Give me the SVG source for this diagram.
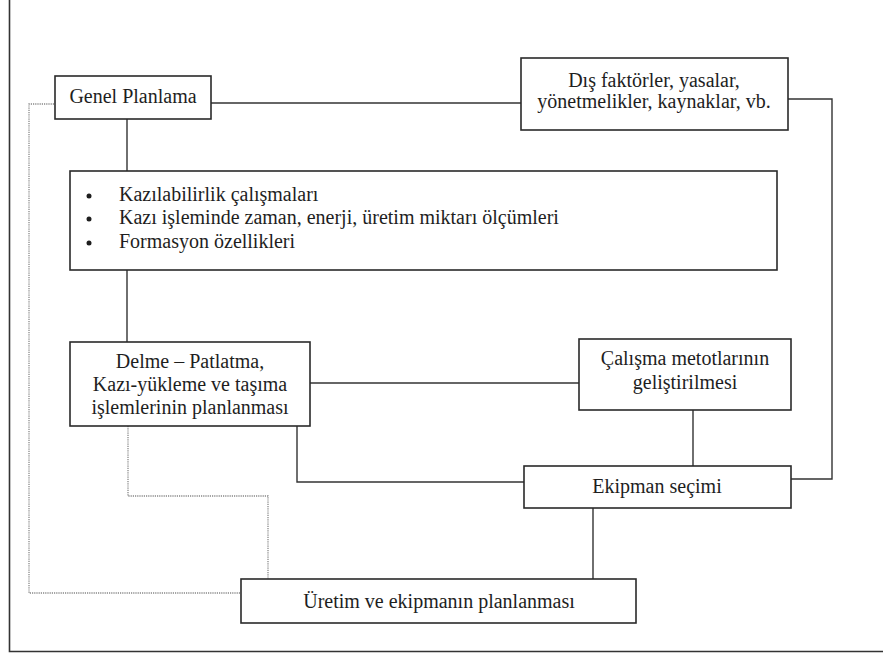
<svg xmlns="http://www.w3.org/2000/svg" width="883" height="654" viewBox="0 0 883 654">
<style>
text{font-family:"Liberation Serif","Times New Roman",serif !important;font-size:20px;fill:#1e1e1e}
.c{text-anchor:middle}
.box{fill:#fff;stroke:#2a2a2a;stroke-width:1.6}
.ln{fill:none;stroke:#333;stroke-width:1.4}
.dot{fill:none;stroke:#888;stroke-width:1.3;stroke-dasharray:1.2 1}
</style>
<rect x="0" y="0" width="883" height="654" fill="#fff"/>
<g id="frame">
<path class="ln" d="M9.5 0 V651.5 H883" style="stroke-width:1.6"/>
</g>
<g id="connectors">
<path class="ln" d="M211 103 H521"/>
<path class="ln" d="M788 99 H832 V479 H791"/>
<path class="ln" d="M127 119 V171"/>
<path class="ln" d="M127 270 V342"/>
<path class="ln" d="M310 383 H579"/>
<path class="ln" d="M693 410 V466"/>
<path class="ln" d="M297 426 V482 H524"/>
<path class="ln" d="M593 508 V579"/>
<path class="dot" d="M54 104 H29 V593 H241"/>
<path class="dot" d="M128 426 V496 H268 V579"/>
</g>
<g id="genel">
<rect class="box" x="55" y="76" width="156" height="43"/>
<text class="c" x="133" y="103" font-family="Liberation Serif">Genel Planlama</text>
</g>
<g id="dis">
<rect class="box" x="521" y="58" width="267" height="72"/>
<text class="c" x="654" y="87" font-family="Liberation Serif">Dış faktörler, yasalar,</text>
<text class="c" x="654" y="108" font-family="Liberation Serif">yönetmelikler, kaynaklar, vb.</text>
</g>
<g id="bullets">
<rect class="box" x="70" y="171" width="707" height="99"/>
<circle cx="89" cy="196" r="2.5" fill="#1e1e1e"/>
<circle cx="89" cy="219" r="2.5" fill="#1e1e1e"/>
<circle cx="89" cy="243" r="2.5" fill="#1e1e1e"/>
<text x="119" y="201" font-family="Liberation Serif">Kazılabilirlik çalışmaları</text>
<text x="119" y="224" font-family="Liberation Serif">Kazı işleminde zaman, enerji, üretim miktarı ölçümleri</text>
<text x="119" y="248" font-family="Liberation Serif">Formasyon özellikleri</text>
</g>
<g id="delme">
<rect class="box" x="70" y="342" width="240" height="84"/>
<text class="c" x="190" y="368" font-family="Liberation Serif">Delme – Patlatma,</text>
<text class="c" x="190" y="391" font-family="Liberation Serif">Kazı-yükleme ve taşıma</text>
<text class="c" x="190" y="414" font-family="Liberation Serif">işlemlerinin planlanması</text>
</g>
<g id="calisma">
<rect class="box" x="579" y="339" width="212" height="71"/>
<text class="c" x="685" y="365" font-family="Liberation Serif">Çalışma metotlarının</text>
<text class="c" x="685" y="389" font-family="Liberation Serif">geliştirilmesi</text>
</g>
<g id="ekipman">
<rect class="box" x="524" y="466" width="267" height="42"/>
<text class="c" x="657" y="493" font-family="Liberation Serif">Ekipman seçimi</text>
</g>
<g id="uretim">
<rect class="box" x="241" y="579" width="395" height="44"/>
<text class="c" x="439" y="608" font-family="Liberation Serif">Üretim ve ekipmanın planlanması</text>
</g>
</svg>
